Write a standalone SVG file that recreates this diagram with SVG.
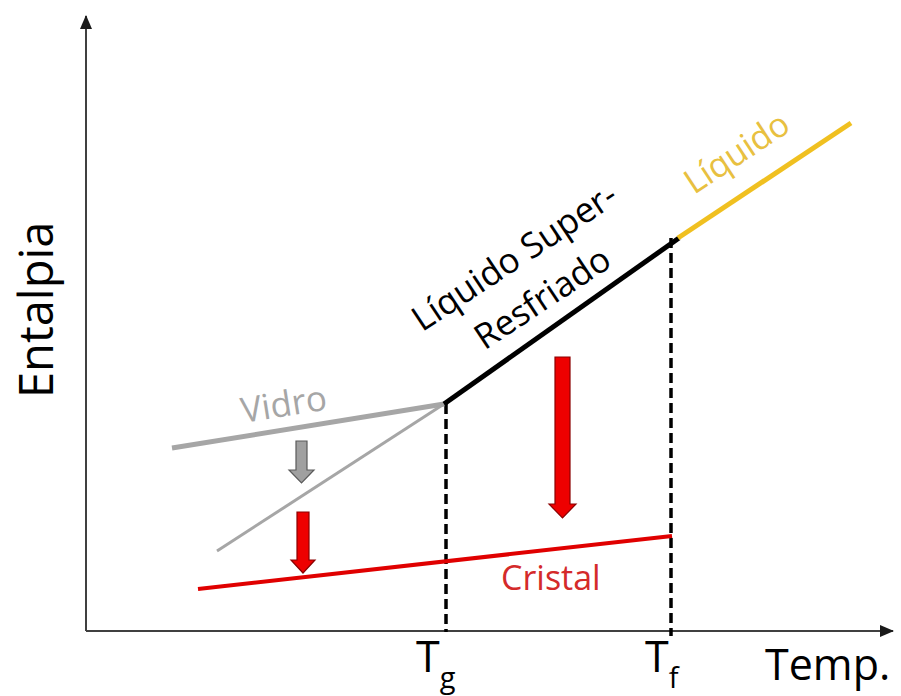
<svg xmlns="http://www.w3.org/2000/svg" width="901" height="696" viewBox="0 0 901 696">
<defs>
<style>
.lbl{font-family:"Open Sans","Liberation Sans",sans-serif;}
.axis{stroke:#404040;stroke-width:2;fill:none;}
.dash{stroke:#000;stroke-width:3.5;stroke-dasharray:10,5;fill:none;}
.curve{fill:none;stroke-linecap:butt;}
</style>
<marker id="ah" viewBox="0 0 14 12" refX="13" refY="6" markerWidth="14" markerHeight="12" markerUnits="userSpaceOnUse" orient="auto">
<path d="M0,0 L14,6 L0,12 Z" fill="#1a1a1a"/>
</marker>
</defs>
<rect width="901" height="696" fill="#fff"/>
<g id="axes">
<line class="axis" x1="86" y1="631" x2="86" y2="16" marker-end="url(#ah)"/>
<line class="axis" x1="86" y1="631" x2="893" y2="631" marker-end="url(#ah)"/>
<text class="lbl" font-size="47" fill="#000" transform="translate(53,398) rotate(-90)">Entalpia</text>
<text class="lbl" font-size="43" fill="#000" x="765" y="680">Temp.</text>
<text class="lbl" font-size="43" fill="#000" x="416" y="672">T<tspan font-size="29" dy="16">g</tspan></text>
<text class="lbl" font-size="43" fill="#000" x="645" y="672">T<tspan font-size="29" dy="16">f</tspan></text>
</g>
<g id="connectors">
<line class="dash" x1="446" y1="404" x2="446" y2="632"/>
<line class="dash" x1="671" y1="238" x2="671" y2="636"/>
</g>
<g id="vidro">
<line class="curve" x1="172" y1="448" x2="444" y2="404" stroke="#a6a6a6" stroke-width="5"/>
<line class="curve" x1="217" y1="551" x2="444" y2="404" stroke="#a6a6a6" stroke-width="3"/>
<text class="lbl" font-size="35" fill="#a6a6a6" transform="translate(243,423) rotate(-9)">Vidro</text>
</g>
<g id="cristal">
<line class="curve" x1="198" y1="589" x2="672" y2="536" stroke="#e00000" stroke-width="4"/>
<text class="lbl" font-size="34" fill="#d42a2a" x="501" y="590">Cristal</text>
</g>
<g id="superresfriado">
<line class="curve" x1="444" y1="404" x2="679" y2="238" stroke="#000" stroke-width="5"/>
<text class="lbl" font-size="35" fill="#000" text-anchor="middle" transform="translate(521,267) rotate(-33.5)">Líquido Super-</text>
<text class="lbl" font-size="35" fill="#000" text-anchor="middle" transform="translate(549,308) rotate(-33.5)">Resfriado</text>
</g>
<g id="liquido">
<line class="curve" x1="678" y1="238" x2="851" y2="123" stroke="#f0c020" stroke-width="5"/>
<text class="lbl" font-size="34" fill="#e8c040" transform="translate(694,195) rotate(-33.5)">Líquido</text>
</g>
<g id="arrow-gray">
<path d="M296,441 H307 V470 H314 L301.5,483 L289,470 H296 Z" fill="#a0a0a0" stroke="#5a5a5a" stroke-width="1.2"/>
</g>
<g id="arrow-red-small">
<path d="M297,512 H309 V560 H315 L303,573 L291,560 H297 Z" fill="#ee0000" stroke="#8b0000" stroke-width="1.2"/>
</g>
<g id="arrow-red-big">
<path d="M555,357 H570 V504 H576 L562.5,518 L549,504 H555 Z" fill="#ee0000" stroke="#8b0000" stroke-width="1.2"/>
</g>
</svg>
